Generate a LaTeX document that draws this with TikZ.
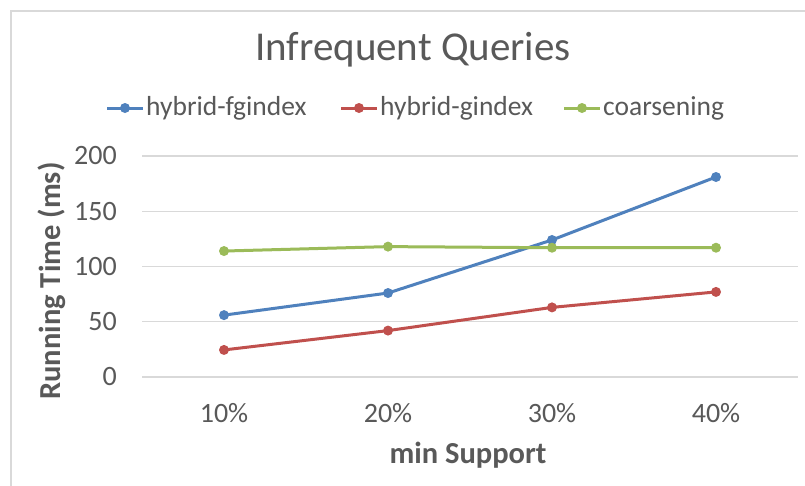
\documentclass[tikz,border=0pt]{standalone}
\usepackage{fontspec}
\setmainfont{Carlito}
\definecolor{txt}{HTML}{595959}
\definecolor{gridc}{HTML}{D9D9D9}
\definecolor{sblue}{HTML}{4F81BD}
\definecolor{sred}{HTML}{C0504D}
\definecolor{sgreen}{HTML}{9BBB59}
\begin{document}
\begin{tikzpicture}[x=1pt,y=-1pt,
  gridline/.style={draw=gridc,line width=1.3pt},
  ticklbl/.style={text=txt,font=\fontsize{28}{32}\selectfont,inner sep=0pt},
  leglbl/.style={text=txt,font=\fontsize{27.5}{32}\selectfont,inner sep=0pt},
  axtitle/.style={text=txt,font=\fontsize{30.5}{36}\selectfont\bfseries,inner sep=0pt},
  series/.style={line width=3pt,line join=round,line cap=round},
  mk/.style={circle,fill=#1,draw=none,inner sep=0pt,minimum size=10pt},
]
\useasboundingbox (0,0) rectangle (805,485);
\fill[white] (0,0) rectangle (805,485);
\draw[gridc,line width=1.5pt] (11,486) |- (806,11);
% title
\node[text=txt,font=\fontsize{41}{48}\selectfont,inner sep=0pt] (title) at (413,50) {Infrequent Queries};
% gridlines and y ticks
\foreach \v in {0,50,100,150,200}{
  \draw[gridline] (142,{377-\v*1.105}) -- (798,{377-\v*1.105});
  \node[ticklbl,anchor=east] (yt\v) at (117,{377-\v*1.105}) {\v};
}
% x ticks
\foreach \c/\x in {10/224,20/388,30/552,40/716}{
  \node[ticklbl] (xt\c) at (\x,413) {\c\%};
}
\node[axtitle] (xtitle) at (468,455) {min Support};
\node[axtitle,rotate=90] (ytitle) at (52,281) {Running Time (ms)};
% data coordinates
\foreach \s/\a/\b/\c/\d in {b/56/76/124/181, r/24.5/42/63/77, g/114/118/117/117}{
  \coordinate (\s1) at (224,{377-\a*1.105});
  \coordinate (\s2) at (388,{377-\b*1.105});
  \coordinate (\s3) at (552,{377-\c*1.105});
  \coordinate (\s4) at (716,{377-\d*1.105});
}
\foreach \s/\col in {b/sblue, r/sred, g/sgreen}{
  \draw[series,\col] (\s1) -- (\s2) -- (\s3) -- (\s4);
  \foreach \i in {1,2,3,4}{\node[mk=\col] (m\s\i) at (\s\i) {};}
}
% legend
\foreach \s/\col/\x/\lbl in {b/sblue/107/hybrid-fgindex, r/sred/341/hybrid-gindex, g/sgreen/564/coarsening}{
  \coordinate (l\s a) at (\x,108);
  \coordinate (l\s b) at (\x+36,108);
  \draw[series,\col,line cap=butt] (l\s a) -- (l\s b);
  \node[mk=\col] (lm\s) at (\x+18,108) {};
  \node[leglbl,anchor=west] (lt\s) at (\x+39,108) {\lbl};
}
\end{tikzpicture}
\end{document}
